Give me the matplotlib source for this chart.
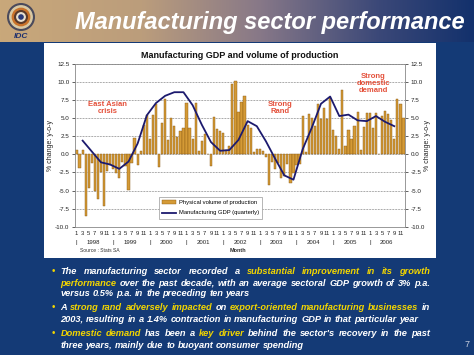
import matplotlib
matplotlib.use("Agg")
import numpy as np
import matplotlib.pyplot as plt
from matplotlib.colors import LinearSegmentedColormap
from matplotlib.patches import Rectangle, Circle
from matplotlib.transforms import blended_transform_factory

FONT = ['Liberation Sans', 'DejaVu Sans']
plt.rcParams['font.family'] = FONT

# ---- data ----
years = [1998, 1999, 2000, 2001, 2002, 2003, 2004, 2005, 2006]
month_labels = ['1', '3', '5', '7', '9', '11']

# physical volume of manufacturing production, % y-o-y, monthly Jan 1998 - Dec 2006
volume = [
    0.6, -1.9, 0.6, -8.5, -4.6, -1.2, -5.1, -6.2, -2.4, -7.1, -2.3, -1.5,   # 1998
    -2.0, -2.6, -3.3, -1.1, -1.6, -4.9, -1.2, 2.2, -1.4, 0.4, 4.1, 5.5,     # 1999
    2.1, 5.4, 7.0, -1.8, 4.4, 7.7, 2.0, 5.1, 3.9, 2.4, 3.3, 3.7,            # 2000
    7.1, 3.6, 2.1, 7.1, 0.4, 1.8, 2.8, 0.1, -1.6, 5.2, 3.5, 3.3,            # 2001
    2.9, 0.6, 1.2, 9.7, 10.1, 5.9, 7.3, 8.1, 4.1, 3.6, 0.3, 0.8,            # 2002
    0.8, 0.5, -0.3, -4.2, -1.0, -2.0, -1.2, -3.3, -3.0, -1.3, -3.9, -2.6,   # 2003
    -1.5, -1.3, 5.3, 0.3, 5.6, 5.0, 3.9, 6.9, 4.9, 6.4, 4.9, 7.8,           # 2004
    3.4, 2.6, 0.7, 8.9, 1.1, 3.4, 2.1, 3.9, 5.8, 0.6, 3.8, 5.7,             # 2005
    5.7, 3.7, 5.7, 0.1, 5.3, 6.0, 5.6, 4.7, 2.1, 7.7, 7.0, 5.0,             # 2006
]

# manufacturing GDP, % y-o-y, quarterly 1998Q1 - 2006Q3
gdp_q = [1.9, 0.4, -1.1, -1.4, -2.0, -1.0, 1.5, 5.4, 7.1, 8.1, 8.6, 8.6,
         6.8, 4.1, 1.7, 0.5, 0.6, 2.0, 4.6, 3.9, 1.8, -0.6, -2.9, -3.5,
         0.7, 3.7, 7.0, 8.0, 5.3, 5.5, 4.7, 4.6, 5.3, 4.5, 3.9]

bullets = [
    [[("The manufacturing sector recorded a ", "w"), ("substantial improvement in its growth", "y")],
     [("performance", "y"), (" over the past decade, with an average sectoral GDP growth of 3% p.a.", "w")],
     [("versus 0.5% p.a. in the preceding ten years", "w")]],
    [[("A ", "w"), ("strong rand adversely impacted", "y"), (" on ", "w"),
      ("export-oriented manufacturing businesses", "y"), (" in", "w")],
     [("2003, resulting in a 1.4% contraction in manufacturing GDP in that particular year", "w")]],
    [[("Domestic demand", "y"), (" has been a ", "w"), ("key driver", "y"),
      (" behind the sector's recovery in the past", "w")],
     [("three years, mainly due to buoyant consumer spending", "w")]],
]

W, H = 474, 355
BLUE = '#143a76'
BAR = '#D49A36'
LINE = '#1c1a6e'
RED = '#E4503A'
YELLOW = '#F2D500'

fig = plt.figure(figsize=(W / 100, H / 100), dpi=100)
fig.patch.set_facecolor(BLUE)

# header gradient
hdr = fig.add_axes([0, 1 - 42 / H, 1, 42 / H])
cmap = LinearSegmentedColormap.from_list(
    'hdr', [(0, '#C9A87A'), (0.3, '#BB9D7C'), (0.55, '#877888'), (0.8, '#3b4878'), (1, '#13316c')])
hdr.imshow(np.linspace(0, 1, 256)[None, :], aspect='auto', cmap=cmap, extent=[0, 1, 0, 1])
hdr.axis('off')
fig.text(270 / W, 1 - 22 / H, "Manufacturing sector performance", color='white',
         fontsize=17, fontweight='bold', fontstyle='italic', ha='center', va='center')

# logo
lg = fig.add_axes([6 / W, 1 - 31 / H, 30 / W, 28 / H])
lg.set_xlim(-1, 1)
lg.set_ylim(-1, 1)
lg.set_aspect('equal')
lg.axis('off')
for r, c in [(0.95, '#4a4a5c'), (0.8, '#d9c9a4'), (0.62, '#c9722a'), (0.45, '#5a3a2a'), (0.3, '#e8e0d0'), (0.15, '#2a3a78')]:
    lg.add_patch(Circle((0, 0), r, color=c))
fig.text(21 / W, 1 - 37 / H, "IDC", color='#1c2f6e', fontsize=6, fontweight='bold',
         fontstyle='italic', ha='center', va='center')

# white panel
fig.add_artist(Rectangle((44 / W, 1 - 258 / H), 392 / W, 215 / H, transform=fig.transFigure,
                         facecolor='white', edgecolor='none', zorder=-5))

# chart
ax = fig.add_axes([75 / W, 1 - 226.7 / H, 330 / W, 162.7 / H])
ax.set_facecolor('white')
x = np.arange(len(volume))
bars = ax.bar(x, volume, width=0.72, color=BAR, edgecolor='#8a5a14', linewidth=0.3, zorder=2)
xq = np.arange(len(gdp_q)) * 3 + 2
line, = ax.plot(xq, gdp_q, color=LINE, linewidth=1.3, zorder=3)

ax.set_xlim(-0.5, len(volume) - 0.5)
ax.set_ylim(-10, 12.5)
yt = np.arange(-10, 12.6, 2.5)
ax.set_yticks(yt)
ax.set_yticklabels([f"{v:.1f}" for v in yt])
ax.tick_params(axis='y', labelsize=4.5, length=2, width=0.5, pad=2, right=True, labelright=True,
               colors='#222222')
ax.yaxis.grid(True, linestyle=(0, (1, 1.2)), color='#555555', linewidth=0.5)
ax.set_axisbelow(True)
ax.set_xticks(x[::2])
ax.set_xticklabels(month_labels * len(years))
ax.tick_params(axis='x', labelsize=4.2, length=0, pad=3, colors='#222222')
for s in ax.spines.values():
    s.set_color('#888888')
    s.set_linewidth(0.6)

tr = blended_transform_factory(ax.transData, ax.transAxes)
for k, yr in enumerate(years):
    ax.text(k * 12 + 5.5, -0.095, str(yr), transform=tr, fontsize=4.3, ha='center', va='center',
            color='#222222')
    ax.text(k * 12, -0.095, "|", transform=tr, fontsize=4.3, ha='center', va='center', color='#222222')

ax.text(-0.075, 0.5, "% change: y-o-y", transform=ax.transAxes, rotation=90, fontsize=5,
        ha='center', va='center', color='#222222')
ax.text(1.068, 0.5, "% change: y-o-y", transform=ax.transAxes, rotation=90, fontsize=5,
        ha='center', va='center', color='#222222')

ax.text(10.3, 6.4, "East Asian\ncrisis", color=RED, fontsize=5.5, fontweight='bold',
        ha='center', va='center', linespacing=1.0)
ax.text(66.7, 6.4, "Strong\nRand", color=RED, fontsize=5.5, fontweight='bold',
        ha='center', va='center', linespacing=1.0)
ax.text(97.2, 9.8, "Strong\ndomestic\ndemand", color=RED, fontsize=5.5, fontweight='bold',
        ha='center', va='center', linespacing=0.95)

leg = ax.legend([bars, line], ['Physical volume of production', 'Manufacturing GDP (quarterly)'],
                loc='lower left', bbox_to_anchor=(0.245, 0.03), fontsize=4.2, frameon=True,
                fancybox=False, edgecolor='#999999', framealpha=1, borderpad=0.6,
                handlelength=2.4, handleheight=0.5, labelspacing=0.9, handletextpad=0.4)
leg.get_frame().set_linewidth(0.5)

fig.text(240 / W, 1 - 56 / H, "Manufacturing GDP and volume of production", fontsize=6.5,
         fontweight='bold', ha='center', va='center', color='#111111')
fig.text(80 / W, 1 - 251 / H, "Source : Stats SA", fontsize=3.6, ha='left', va='center', color='#333333')
fig.text(238 / W, 1 - 251 / H, "Month", fontsize=4, fontweight='bold', ha='center', va='center',
         color='#333333')

# bullet text, justified like the slide
rend = fig.canvas.get_renderer()
BODY_FS = 6.7
TEXT_L, TEXT_R = 60.5, 430
cols = {'w': 'white', 'y': YELLOW}


def measure(s):
    t = fig.text(0, 0, s, fontsize=BODY_FS, fontweight='bold', fontstyle='italic')
    w = t.get_window_extent(rend).width
    t.remove()
    return w


SPACE = measure("a a") - measure("aa")


def put_line(segs, y, justify):
    words = [(w, c) for txt, c in segs for w in txt.split()]
    arts = [fig.text(0, 1 - y / H, w, color=cols[c], fontsize=BODY_FS, fontweight='bold',
                     fontstyle='italic', va='baseline') for w, c in words]
    widths = [a.get_window_extent(rend).width for a in arts]
    gap = (TEXT_R - TEXT_L - sum(widths)) / (len(words) - 1) if justify else SPACE
    xp = TEXT_L
    for a, wd in zip(arts, widths):
        a.set_x(xp / W)
        xp += wd + gap


line_y = [[274, 285.5, 296.5], [310.5, 321.5], [336.5, 347.5]]
for para, ys in zip(bullets, line_y):
    fig.text(53.5 / W, 1 - ys[0] / H, "\u2022", color=YELLOW, fontsize=7, va='baseline', ha='center')
    for n, (segs, yy) in enumerate(zip(para, ys)):
        put_line(segs, yy, n < len(para) - 1)

fig.text(467 / W, 1 - 347 / H, "7", color='#c8cede', fontsize=6.5, ha='center', va='baseline')

fig.savefig("out.png", dpi=100)
